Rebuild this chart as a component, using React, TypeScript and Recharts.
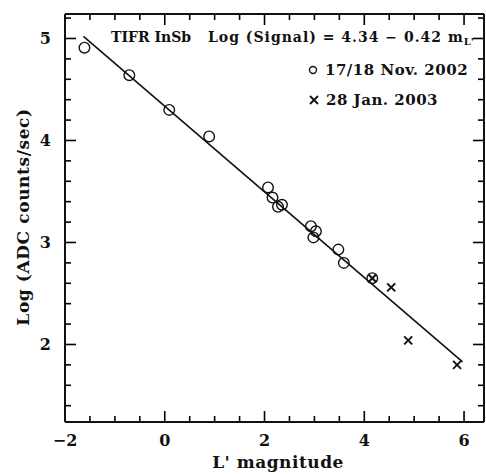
import React from "react";
import { ScatterChart, Scatter, XAxis, YAxis, ReferenceLine, Customized } from "recharts";

// 17/18 Nov. 2002 (open circles)
const novX = [-1.61, -0.71, 0.09, 0.89, 2.07, 2.16, 2.27, 2.35, 2.93, 3.03, 2.98, 3.48, 3.59, 4.16];
const novY = [4.91, 4.64, 4.3, 4.04, 3.54, 3.44, 3.35, 3.37, 3.16, 3.11, 3.05, 2.93, 2.8, 2.65];
// 28 Jan. 2003 (crosses)
const janX = [4.16, 4.54, 4.88, 5.86];
const janY = [2.65, 2.56, 2.04, 1.8];
// fitted line: Log (Signal) = 4.34 - 0.42 m
const fitX = [-1.63, 5.97];
const fitY = [5.02, 1.83];

const xTicks = [-2, -1.5, -1, -0.5, 0, 0.5, 1, 1.5, 2, 2.5, 3, 3.5, 4, 4.5, 5, 5.5, 6];
const xLabels = [-2, 0, 2, 4, 6];
const yTicks = [1.4, 1.6, 1.8, 2, 2.2, 2.4, 2.6, 2.8, 3, 3.2, 3.4, 3.6, 3.8, 4, 4.2, 4.4, 4.6, 4.8, 5, 5.2];
const yLabels = [2, 3, 4, 5];

const novData = novX.map((x, i) => ({ x, y: novY[i] }));
const janData = janX.map((x, i) => ({ x, y: janY[i] }));
const fitData = fitX.map((x, i) => ({ x, y: fitY[i] }));

const INK = "#111";
const FONT = "DejaVu Serif";
const X_MIN = -2;
const X_MAX = 6.4;
const Y_MIN = 1.24;
const Y_MAX = 5.24;
const AXIS_LINE = { stroke: INK, strokeWidth: 2 };

// inward tick lengths, in axis units (about 11px major / 6px minor)
const TICK_Y_MAJOR = 0.108;
const TICK_Y_MINOR = 0.059;
const TICK_X_MAJOR = 0.22;
const TICK_X_MINOR = 0.12;

const fmt = (v: number) => (v < 0 ? `\u2212${-v}` : `${v}`);

const BottomLabel = (props: any) => (
  <text x={props.x} y={props.y + 24} textAnchor="middle" fontFamily={FONT} fontWeight="bold" fontSize={16} fill={INK}>
    {fmt(props.payload.value)}
  </text>
);

const LeftLabel = (props: any) => (
  <text x={props.x - 14} y={props.y + 6} textAnchor="end" fontFamily={FONT} fontWeight="bold" fontSize={16} fill={INK}>
    {props.payload.value}
  </text>
);

const OpenCircle = (props: any) => (
  <circle cx={props.cx} cy={props.cy} r={5.3} fill="none" stroke={INK} strokeWidth={1.4} />
);

const Cross = (props: any) => {
  const { cx, cy } = props;
  const s = 4;
  return (
    <g stroke={INK} strokeWidth={2}>
      <line x1={cx - s} y1={cy - s} x2={cx + s} y2={cy + s} />
      <line x1={cx - s} y1={cy + s} x2={cx + s} y2={cy - s} />
    </g>
  );
};

const NoDot = () => <g />;

const Annotations = () => (
  <g fontFamily={FONT} fill={INK} fontWeight="bold">
    <text x={111} y={42} fontSize={14}>TIFR InSb</text>
    <text x={208} y={42} fontSize={14} letterSpacing={1}>
      Log (Signal) = 4.34 {"\u2212"} 0.42 m
      <tspan fontSize={10} dy={3} letterSpacing={0}>L'</tspan>
    </text>
    <circle cx={313} cy={70} r={3.5} fill="none" stroke={INK} strokeWidth={1.4} />
    <text x={325} y={75} fontSize={15} letterSpacing={0.5}>17/18 Nov. 2002</text>
    <g stroke={INK} strokeWidth={1.8}>
      <line x1={310} y1={96} x2={318} y2={104} />
      <line x1={310} y1={104} x2={318} y2={96} />
    </g>
    <text x={326} y={105} fontSize={15} letterSpacing={0.5}>28 Jan. 2003</text>
    <text x={278} y={468} fontSize={17} textAnchor="middle" letterSpacing={0.5}>L' magnitude</text>
    <text x={29} y={217} fontSize={17} textAnchor="middle" letterSpacing={0.6} transform="rotate(-90, 29, 217)">
      Log (ADC counts/sec)
    </text>
  </g>
);

const tickStyle = { stroke: "#000", strokeWidth: 1.6 };

export default function App() {
  return (
    <div style={{ position: "absolute", left: 0, top: 0, background: "#fff" }}>
      <ScatterChart width={486} height={474} margin={{ top: 0, right: 0, bottom: 0, left: 0 }}>
        <XAxis xAxisId="b" type="number" dataKey="x" domain={[X_MIN, X_MAX]} ticks={xLabels} interval={0}
          allowDataOverflow height={52} tickSize={0} tickMargin={0} tickLine={false} tick={<BottomLabel />}
          axisLine={AXIS_LINE} />
        <XAxis xAxisId="t" orientation="top" type="number" dataKey="x" domain={[X_MIN, X_MAX]} ticks={xLabels}
          interval={0} allowDataOverflow height={14} tick={false} tickLine={false} axisLine={AXIS_LINE} />
        <YAxis yAxisId="l" type="number" dataKey="y" domain={[Y_MIN, Y_MAX]} ticks={yLabels} interval={0}
          allowDataOverflow width={65} tickSize={0} tickMargin={0} tickLine={false} tick={<LeftLabel />}
          axisLine={AXIS_LINE} />
        <YAxis yAxisId="r" orientation="right" type="number" dataKey="y" domain={[Y_MIN, Y_MAX]} ticks={yLabels}
          interval={0} allowDataOverflow width={2} tick={false} tickLine={false} axisLine={AXIS_LINE} />

        {/* inward tick marks on all four sides */}
        {xTicks.map((v) => {
          const len = xLabels.includes(v) ? TICK_Y_MAJOR : TICK_Y_MINOR;
          return [
            <ReferenceLine key={`b${v}`} xAxisId="b" yAxisId="l" ifOverflow="visible" {...tickStyle}
              segment={[{ x: v, y: Y_MIN }, { x: v, y: Y_MIN + len }]} />,
            <ReferenceLine key={`t${v}`} xAxisId="b" yAxisId="l" ifOverflow="visible" {...tickStyle}
              segment={[{ x: v, y: Y_MAX }, { x: v, y: Y_MAX - len }]} />,
          ];
        })}
        {yTicks.map((v) => {
          const len = yLabels.includes(v) ? TICK_X_MAJOR : TICK_X_MINOR;
          return [
            <ReferenceLine key={`l${v}`} xAxisId="b" yAxisId="l" ifOverflow="visible" {...tickStyle}
              segment={[{ x: X_MIN, y: v }, { x: X_MIN + len, y: v }]} />,
            <ReferenceLine key={`r${v}`} xAxisId="b" yAxisId="l" ifOverflow="visible" {...tickStyle}
              segment={[{ x: X_MAX, y: v }, { x: X_MAX - len, y: v }]} />,
          ];
        })}

        <Scatter
          xAxisId="b"
          yAxisId="l"
          data={fitData}
          line={{ stroke: INK, strokeWidth: 1.6 }}
          lineType="joint"
          shape={NoDot}
          isAnimationActive={false}
        />
        <Scatter xAxisId="b" yAxisId="l" data={novData} shape={OpenCircle} isAnimationActive={false} />
        <Scatter xAxisId="b" yAxisId="l" data={janData} shape={Cross} isAnimationActive={false} />
        <Customized component={Annotations} />
      </ScatterChart>
    </div>
  );
}
